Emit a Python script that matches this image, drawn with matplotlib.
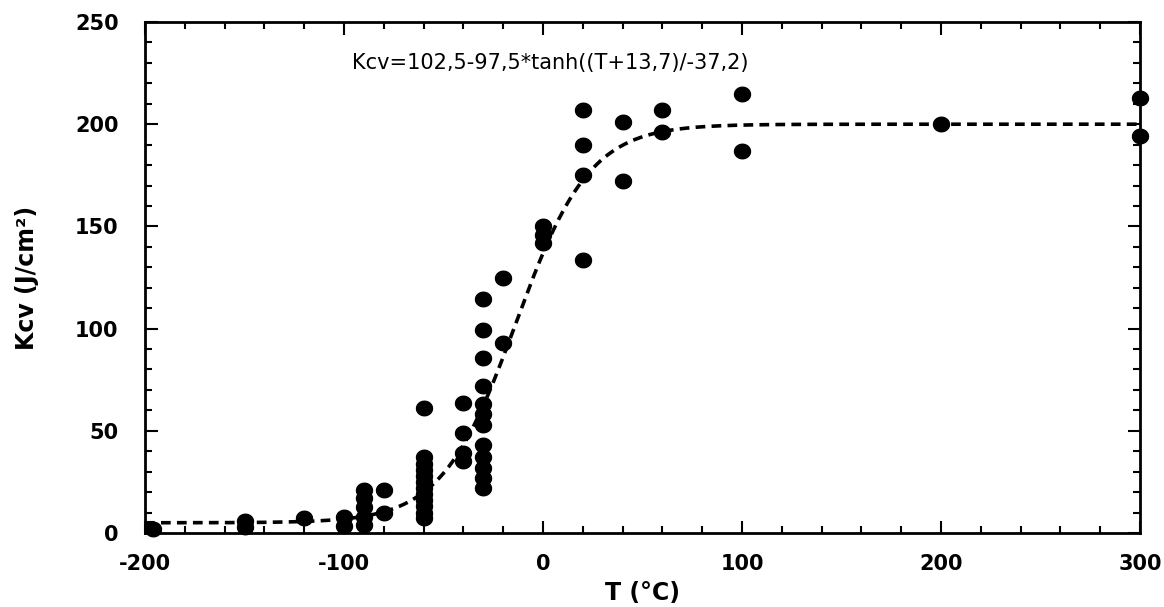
import numpy as np
import matplotlib
matplotlib.use("Agg")
import matplotlib.pyplot as plt
from matplotlib.path import Path
from matplotlib.ticker import MultipleLocator

# ---- data ----
T_vals = [-196, -150, -150, -120, -100, -100,
          -90, -90, -90, -90, -90,
          -80, -80,
          -60, -60, -60, -60, -60, -60, -60, -60, -60, -60, -60, -60,
          -40, -40, -40, -40,
          -30, -30, -30, -30, -30, -30, -30, -30, -30, -30, -30, -30,
          -20, -20,
          0, 0, 0,
          20, 20, 20, 20,
          40, 40,
          60, 60,
          100, 100,
          200,
          300, 300]
K_vals = [2, 6, 3, 7.5, 8, 3.5,
          21, 17, 12.5, 8, 4,
          21, 10,
          61, 37, 34, 31, 28, 25, 22, 19, 16, 13, 10, 7.5,
          63.5, 49, 39, 35,
          114.5, 99.5, 85.5, 72, 63, 58, 53, 43, 37, 32, 27, 22,
          125, 93,
          150, 146, 142,
          207, 190, 175, 133.5,
          201, 172,
          207, 196,
          215, 187,
          200,
          213, 194]

# fitted curve parameters (from the chart's equation)
A, B, T0, C = 102.5, 97.5, -13.7, -37.2
fit_label = "Kcv=102,5-97,5*tanh((T+13,7)/-37,2)"
x_ticks = [-200, -100, 0, 100, 200, 300]
y_ticks = [0, 50, 100, 150, 200, 250]

plt.rcParams['lines.scale_dashes'] = False
plt.rcParams['axes.unicode_minus'] = False
fig = plt.figure(figsize=(11.64, 6.07), dpi=100)
ax = fig.add_axes([145/1164, 1-533/607, (1140-145)/1164, (533-22)/607])

Tc = np.linspace(-200, 300, 600)
Kc = A - B*np.tanh((Tc - T0)/C)
ax.plot(Tc, Kc, color='black', lw=2.6, dashes=(7.0, 4.5), zorder=2)

# slightly wide elliptical marker, like the stretched original
th = np.linspace(0, 2*np.pi, 60)
ell = Path(np.column_stack([1.1*np.cos(th), np.sin(th)]), closed=True)
ax.plot(T_vals, K_vals, linestyle='none', marker=ell, ms=11.5,
        color='black', zorder=3, clip_on=False)

ax.set_xlim(-200, 300)
ax.set_ylim(0, 250)
ax.set_xticks(x_ticks)
ax.set_yticks(y_ticks)
ax.xaxis.set_minor_locator(MultipleLocator(20))
ax.yaxis.set_minor_locator(MultipleLocator(10))
ax.tick_params(which='both', direction='in', top=True, right=True, width=1.5)
ax.tick_params(which='major', length=9)
ax.tick_params(which='minor', length=5)
ax.tick_params(axis='x', which='major', pad=15)
ax.tick_params(axis='y', which='major', pad=19)
for lab in ax.get_xticklabels() + ax.get_yticklabels():
    lab.set_fontfamily('DejaVu Sans')
    lab.set_fontweight('bold')
    lab.set_fontsize(15)
for s in ax.spines.values():
    s.set_linewidth(2)

ax.set_xlabel("T (°C)", fontfamily='DejaVu Sans', fontweight='bold', fontsize=17, labelpad=5)
ax.set_ylabel("Kcv (J/cm²)", fontfamily='DejaVu Sans', fontweight='bold', fontsize=17, labelpad=26)

ax.text(-96, 230, fit_label, fontfamily='DejaVu Sans', fontsize=15,
        ha='left', va='center')

fig.savefig("out.png", dpi=100)
